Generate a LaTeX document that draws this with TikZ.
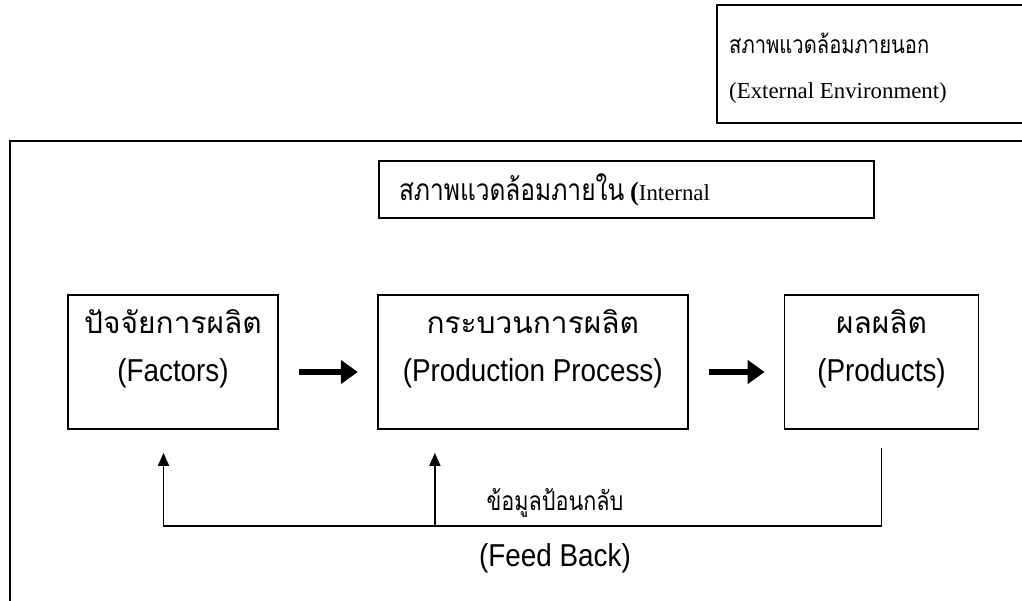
\documentclass[tikz,border=0pt]{standalone}
\usepackage{fontspec}
\setmainfont{Liberation Serif}
\newfontfamily\thaifont[Script=Thai]{Loma}
\newfontfamily\thaiserif[Script=Thai, FakeStretch=0.82]{Loma}
\newfontfamily\narrowfont[FakeStretch=0.88]{Liberation Sans}
\usetikzlibrary{arrows.meta, positioning, calc}

% two-line stage text, set a little above the box centre
\newcommand{\stagelabel}[2]{\raisebox{0.28cm}[\height][\depth]{\begin{tabular}{@{}c@{}}{\thaifont #1}\\{\narrowfont\fontsize{18}{27}\selectfont #2}\end{tabular}}}

\begin{document}
\begin{tikzpicture}[
        stage/.style={rectangle, draw=black, line width=1pt, minimum width=#1, minimum height=2.68cm, align=center, font=\fontsize{17}{27}\selectfont},
        flow/.style={-{Triangle[length=0.34cm, width=0.46cm]}, line width=0.12cm, shorten <=0.4cm, shorten >=0.38cm},
        feed/.style={-{Triangle[length=0.26cm, width=0.22cm]}, line width=1pt},
        frame/.style={draw=black, line width=1.2pt}
    ]
        \clip (0,0) rectangle (20.44,-12);

        % Environment frames
        \draw[frame] (14.34,-0.1) rectangle (21.5,-2.46);
        \node[anchor=west, font=\thaiserif\fontsize{14}{18}\selectfont] (extthai) at (14.46,-0.86) {สภาพแวดล้อมภายนอก};
        \node[anchor=west, font=\fontsize{13}{16}\selectfont] (exteng) at (14.46,-1.86) {(External Environment)};
        \draw[frame] (0.2,-2.82) rectangle (21.5,-12.5);
        \node[frame, minimum width=9.9cm, minimum height=1.14cm, text width=9.1cm, inner xsep=0.4cm, align=left] (intbox) at (12.53,-3.79)
            {{\thaiserif\fontsize{17}{18}\selectfont สภาพแวดล้อมภายใน} {\bfseries\fontsize{15}{18}\selectfont (}\fontsize{13}{16}\selectfont Internal};

        % Stages
        \node[stage=4.2cm] (fac) at (3.46,-7.24) {\stagelabel{ปัจจัยการผลิต}{(Factors)}};
        \node[stage=6.2cm, right=1.96cm of fac] (proc) {\stagelabel{กระบวนการผลิต}{(Production Process)}};
        \node[stage=3.88cm, right=1.9cm of proc] (prd) {\stagelabel{ผลผลิต}{(Products)}};

        \draw[flow] ([yshift=-0.2cm]fac.east) -- ([yshift=-0.2cm]proc.west);
        \draw[flow] ([yshift=-0.2cm]proc.east) -- ([yshift=-0.2cm]prd.west);

        % Feed back
        \coordinate (fbtop) at ([yshift=-0.36cm]prd.south);
        \coordinate (fbbase) at ([yshift=-1.92cm]prd.south);
        \coordinate (fbfac) at ([xshift=-0.19cm, yshift=-0.46cm]fac.south);
        \coordinate (fbproc) at ([xshift=1.16cm, yshift=-0.46cm]proc.south west);
        \draw[feed] (fbtop) -- (fbbase) -| (fbfac);
        \draw[feed] (fbproc |- fbbase) -- (fbproc);
        \node[font=\thaiserif\fontsize{15}{20}\selectfont] (fbthai) at (11.1,-10.06) {ข้อมูลป้อนกลับ};
        \node[font=\narrowfont\fontsize{18}{20}\selectfont] (fbeng) at (11.1,-11.16) {(Feed Back)};
\end{tikzpicture}
\end{document}
